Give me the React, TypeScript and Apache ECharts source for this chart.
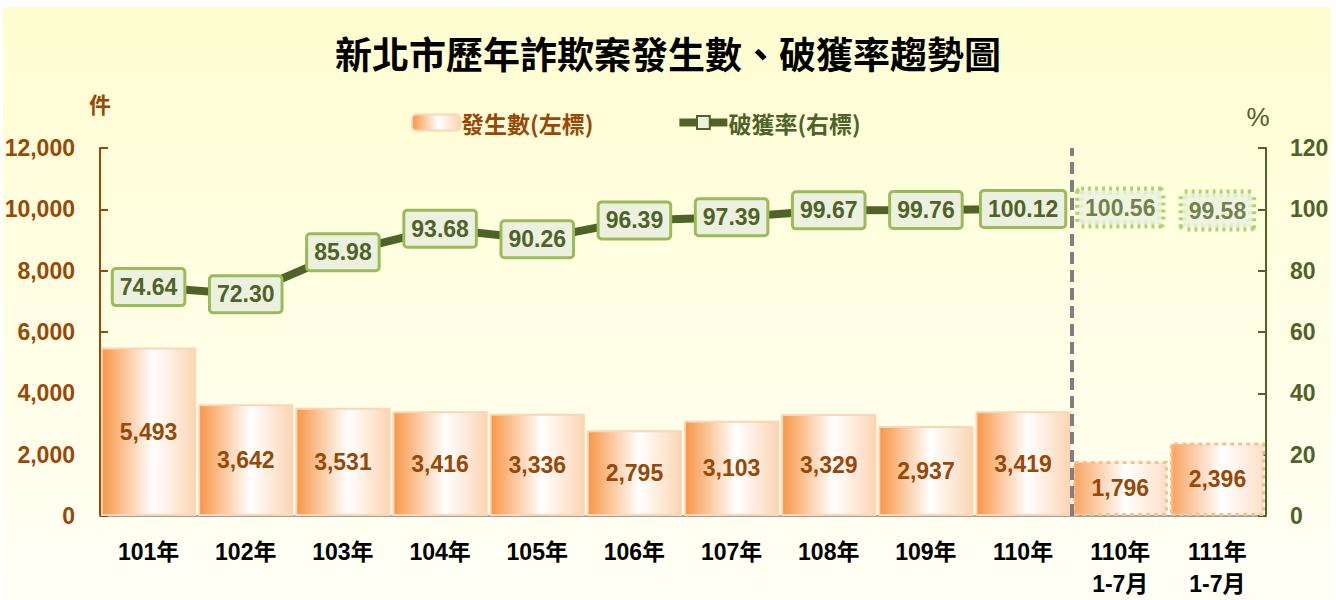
import React, { useEffect, useRef } from "react";
import * as echarts from "echarts";

const categories = ["101年", "102年", "103年", "104年", "105年", "106年", "107年", "108年", "109年", "110年", "110年\n1-7月", "111年\n1-7月"];
const cases = [5493, 3642, 3531, 3416, 3336, 2795, 3103, 3329, 2937, 3419, 1796, 2396];
const rates = [74.64, 72.3, 85.98, 93.68, 90.26, 96.39, 97.39, 99.67, 99.76, 100.12, 100.56, 99.58];
const fullYearCount = 10;
const leftTicks = { min: 0, max: 12000, interval: 2000 };
const rightTicks = { min: 0, max: 120, interval: 20 };

const NUM_FONT = "'Liberation Sans', Arial, sans-serif";
const CJK_FONT = "'Noto Sans CJK TC', 'Noto Sans CJK SC', sans-serif";
const BROWN = "#984807";
const GREEN = "#4f6228";

export default function App() {
  const ref = useRef<HTMLDivElement>(null);
  useEffect(() => {
    if (!ref.current) return;
    const chart = echarts.init(ref.current, null, { renderer: "svg" });
    const barFill = new echarts.graphic.LinearGradient(0, 0, 1, 0, [
      { offset: 0, color: "#f79646" },
      { offset: 0.55, color: "#ffffff" },
      { offset: 1, color: "#fcd5b4" },
    ]);
    const barFillLight = new echarts.graphic.LinearGradient(0, 0, 1, 0, [
      { offset: 0, color: "#f8a460" },
      { offset: 0.55, color: "#ffffff" },
      { offset: 1, color: "#fde0c8" },
    ]);
    const barData = cases.map((v, i) =>
      i < fullYearCount
        ? { value: v }
        : {
            value: v,
            itemStyle: {
              color: barFillLight,
              borderColor: "#fabf8f",
              borderWidth: 3,
              borderType: [4, 4],
            },
          }
    );
    const lineData = rates.map((v, i) => (i < fullYearCount ? v : null));
    const partialData = rates.map((v, i) => (i < fullYearCount ? null : v));
    const rateLabel = {
      show: true,
      position: "inside",
      formatter: (p: any) => (p.value == null ? "" : Number(p.value).toFixed(2)),
      fontFamily: NUM_FONT,
      fontWeight: "bold",
      fontSize: 23,
      color: GREEN,
      backgroundColor: "#ebf1de",
      borderColor: "#9bbb59",
      borderWidth: 3,
      borderRadius: 2,
      padding: [6, 6, 5, 6],
    };
    chart.setOption({
      animation: false,
      backgroundColor: "#ffffff",
      graphic: [
        {
          type: "rect",
          z: -10,
          silent: true,
          shape: { x: 3, y: 7, width: 1328, height: 593 },
          style: {
            fill: new echarts.graphic.LinearGradient(0, 0, 0, 1, [
              { offset: 0, color: "#fffdd0" },
              { offset: 1, color: "#fffff6" },
            ]),
          },
        },
      ],
      title: {
        text: "新北市歷年詐欺案發生數、破獲率趨勢圖",
        left: "center",
        top: 29,
        textStyle: { fontFamily: CJK_FONT, fontSize: 37, fontWeight: "bold", color: "#000" },
      },
      legend: {
        top: 106,
        left: 406,
        itemWidth: 48,
        itemHeight: 16,
        itemGap: 82,
        data: [
          { name: "發生數(左標)", textStyle: { color: BROWN } },
          {
            name: "破獲率(右標)",
            textStyle: { color: GREEN },
            lineStyle: { width: 8, color: GREEN },
            itemStyle: { color: "#ebf1de", borderColor: GREEN, borderWidth: 2 },
          },
        ],
        textStyle: { fontFamily: CJK_FONT, fontSize: 23, fontWeight: "bold", padding: [0, 0, 0, -4] },
      },
      grid: { left: 100, right: 70, top: 148, bottom: 81 },
      xAxis: [
        {
          type: "category",
          data: categories,
          axisLine: { lineStyle: { color: "#a0a0a0", width: 2 } },
          axisTick: { inside: true, length: 6, lineStyle: { color: "#a0a0a0", width: 2 } },
          axisLabel: {
            color: "#000",
            fontFamily: NUM_FONT + ", " + CJK_FONT,
            fontWeight: "bold",
            fontSize: 23,
            lineHeight: 32,
            margin: 20,
          },
        },
        { type: "value", min: 0, max: categories.length, show: false },
      ],
      yAxis: [
        {
          type: "value",
          ...leftTicks,
          name: "件",
          nameLocation: "end",
          nameGap: 34,
          nameTextStyle: { color: BROWN, fontFamily: CJK_FONT, fontWeight: "bold", fontSize: 22, align: "center" },
          axisLine: { show: true, lineStyle: { color: BROWN, width: 2 } },
          axisTick: { show: true, inside: true, length: 8, lineStyle: { color: BROWN, width: 2 } },
          splitLine: { show: false },
          axisLabel: {
            color: BROWN,
            fontFamily: NUM_FONT,
            fontWeight: "bold",
            fontSize: 23,
            margin: 25,
            formatter: (v: number) => v.toLocaleString("en-US"),
          },
        },
        {
          type: "value",
          ...rightTicks,
          position: "right",
          name: "%",
          nameLocation: "end",
          nameGap: 18,
          nameTextStyle: { color: GREEN, fontFamily: "'Liberation Sans', sans-serif", fontSize: 26, padding: [0, 16, 0, 0] },
          axisLine: { show: true, lineStyle: { color: GREEN, width: 2 } },
          axisTick: { show: true, inside: true, length: 8, lineStyle: { color: GREEN, width: 2 } },
          splitLine: { show: false },
          axisLabel: { color: GREEN, fontFamily: NUM_FONT, fontWeight: "bold", fontSize: 23, margin: 24 },
        },
      ],
      series: [
        {
          name: "發生數(左標)",
          type: "bar",
          data: barData,
          barCategoryGap: "2%",
          itemStyle: { color: barFill, borderColor: "#fcd5b4", borderWidth: 2 },
          label: {
            show: true,
            position: "inside",
            color: BROWN,
            fontFamily: NUM_FONT,
            fontWeight: "bold",
            fontSize: 23,
            formatter: (p: any) => Number(p.value).toLocaleString("en-US"),
          },
          z: 2,
        },
        {
          name: "破獲率(右標)",
          type: "line",
          yAxisIndex: 1,
          data: lineData,
          symbol: "rect",
          symbolSize: 12,
          itemStyle: { color: "#ebf1de", borderColor: GREEN, borderWidth: 3 },
          lineStyle: { color: GREEN, width: 8 },
          label: rateLabel,
          z: 5,
        },
        {
          name: "partial",
          type: "scatter",
          yAxisIndex: 1,
          data: partialData,
          symbolSize: 1,
          itemStyle: { color: "rgba(0,0,0,0)" },
          label: { ...rateLabel, borderType: [3, 4], borderColor: "#9bc85a", borderWidth: 4 },
          z: 5,
        },
        {
          name: "divider",
          type: "line",
          xAxisIndex: 1,
          yAxisIndex: 0,
          data: [],
          markLine: {
            silent: true,
            symbol: "none",
            label: { show: false },
            lineStyle: { color: "#7f7f7f", width: 4, type: [12, 6] },
            data: [{ xAxis: fullYearCount }],
          },
          z: 6,
        },
      ],
    });
    return () => chart.dispose();
  }, []);
  return <div ref={ref} style={{ position: "absolute", left: 0, top: 0, width: 1336, height: 600 }} />;
}
